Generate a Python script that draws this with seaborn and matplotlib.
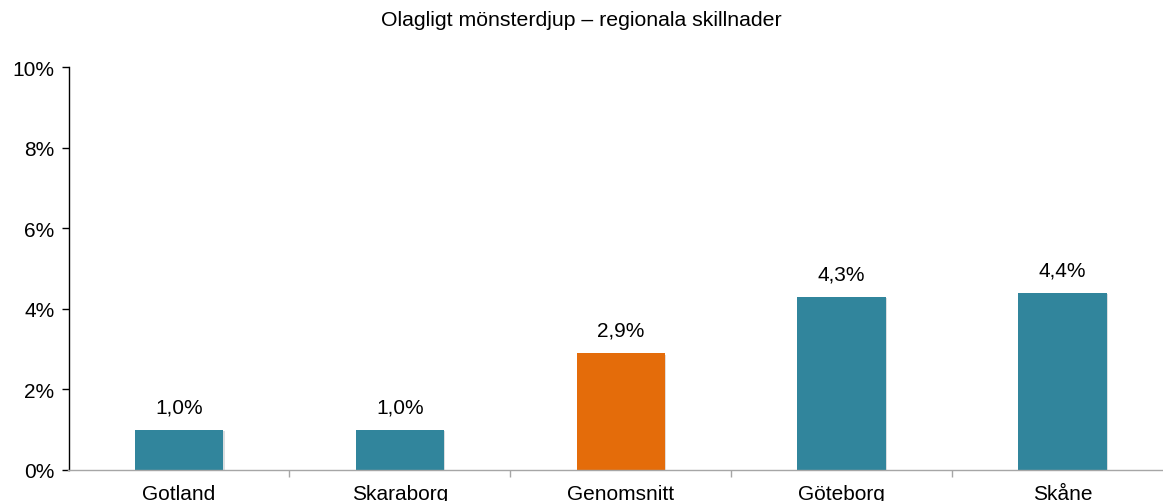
import matplotlib
matplotlib.use('Agg')
import matplotlib.pyplot as plt
import seaborn as sns
import pandas as pd
from matplotlib.ticker import FuncFormatter, FixedLocator
import matplotlib.patheffects as pe

# data
regioner = ["Gotland", "Skaraborg", "Genomsnitt", "Göteborg", "Skåne"]
andel = [1.0, 1.0, 2.9, 4.3, 4.4]
etiketter = ["1,0%", "1,0%", "2,9%", "4,3%", "4,4%"]
farger = ["#31859C", "#31859C", "#E46C0A", "#31859C", "#31859C"]
titel = "Olagligt mönsterdjup – regionala skillnader"

df = pd.DataFrame({"region": regioner, "andel": andel})

sns.set_style("white")
plt.rcParams['font.family'] = ['Liberation Sans', 'DejaVu Sans']
plt.rcParams['text.color'] = 'black'
plt.rcParams['xtick.color'] = 'black'
plt.rcParams['ytick.color'] = 'black'

fig = plt.figure(figsize=(11.63, 5.02), dpi=100)
ax = fig.add_axes([68.5 / 1163, (502 - 471) / 502, (1173 - 68.5) / 1163, (471 - 68) / 502])

sns.barplot(data=df, x="region", y="andel", hue="region", palette=farger,
            width=0.4, legend=False, ax=ax, saturation=1,
            edgecolor="none")
for p in ax.patches:
    p.set_path_effects([pe.SimplePatchShadow(offset=(1, -1), alpha=0.15), pe.Normal()])

for i, (v, t) in enumerate(zip(andel, etiketter)):
    ax.text(i, v + 0.33, t, ha="center", va="bottom", fontsize=15, color="black")

ax.set_xlim(-0.5, 4.5)
ax.set_ylim(0, 10)
ax.set_yticks([0, 2, 4, 6, 8, 10])
ax.yaxis.set_major_formatter(FuncFormatter(lambda v, _: f"{v:.0f}%"))
ax.set_xlabel("")
ax.set_ylabel("")

ax.xaxis.set_minor_locator(FixedLocator([0.5, 1.5, 2.5, 3.5]))
ax.tick_params(axis="x", which="major", length=0, labelsize=15, pad=10, labelcolor="black")
ax.tick_params(axis="x", which="minor", bottom=True, length=5, color="#A6A6A6",
               direction="out", width=1)
ax.tick_params(axis="y", which="major", length=5, color="black", direction="out",
               width=1, left=True, labelsize=15, pad=5, labelcolor="black")

for s in ["top", "right"]:
    ax.spines[s].set_visible(False)
ax.spines["left"].set_color("black")
ax.spines["left"].set_linewidth(1)
ax.spines["bottom"].set_color("#A6A6A6")
ax.spines["bottom"].set_linewidth(1)

fig.text(0.5, 1 - 21 / 502, titel, ha="center", va="center", fontsize=15.3, color="black")

fig.savefig("out.png", dpi=100)
